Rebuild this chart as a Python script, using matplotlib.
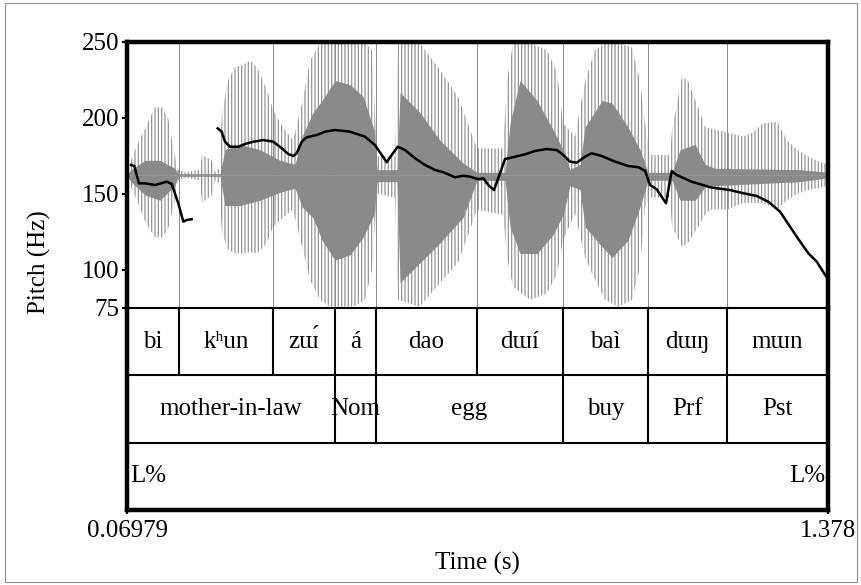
import numpy as np
import matplotlib
matplotlib.use("Agg")
import matplotlib.pyplot as plt
from matplotlib.patches import Rectangle

SERIF = 'Liberation Serif'
IPA_FAMILY = ['Liberation Serif', 'DejaVu Serif']
plt.rcParams['font.family'] = SERIF
plt.rcParams['hatch.linewidth'] = 0.9

T_START = 0.06979
T_END = 1.378

# Pitch contour (s, Hz); NaN separates voiced stretches
pitch_time = [0.0773, 0.0834, 0.0922, 0.1034, 0.1220, 0.1439, 0.1532, 0.1655,
              0.1749, 0.1811, 0.1904, np.nan,
              0.2391, 0.2465, 0.2527, 0.2620, 0.2776, 0.2900, 0.3055, 0.3242,
              0.3428, 0.3585, 0.3709, 0.3802, 0.3865, 0.3958, 0.4052, 0.4238,
              0.4394, 0.4580, 0.4860, 0.4953, 0.5140, 0.5326, 0.5452, 0.5545,
              0.5638, 0.5750, 0.5886, 0.6073, 0.6260, 0.6446, 0.6602, 0.6819,
              0.6975, 0.7100, 0.7256, 0.7348, 0.7441, 0.7547, 0.7659, 0.7752,
              0.7939, 0.8125, 0.8312, 0.8530, 0.8717, 0.8841, 0.8966, 0.9090,
              0.9245, 0.9370, 0.9556, 0.9805, 1.0054, 1.0241, 1.0365, 1.0459,
              1.0583, 1.0757, 1.0863, 1.0956, 1.1236, 1.1485, 1.1578, 1.1951,
              1.2200, 1.2450, 1.2667, 1.2885, 1.3072, 1.3196, 1.3413, 1.3569,
              1.3755]
pitch_hz = [169.1, 168.4, 157.0, 157.0, 155.9, 158.1, 156.6, 143.9,
            131.8, 132.9, 133.4, np.nan,
            193.2, 191.0, 184.4, 181.1, 181.1, 182.9, 184.4, 185.5,
            184.4, 180.1, 176.3, 175.0, 176.8, 184.4, 187.3, 188.8,
            191.0, 192.1, 191.0, 189.9, 187.7, 182.2, 175.7, 170.9,
            175.7, 181.1, 178.9, 173.5, 169.1, 165.8, 164.3, 161.0,
            162.0, 161.4, 159.7, 160.3, 155.9, 152.6, 163.6, 173.0,
            174.5, 176.1, 178.3, 179.6, 178.9, 175.7, 171.3, 170.6,
            174.5, 176.8, 175.0, 171.3, 168.4, 167.6, 165.3, 155.9,
            153.1, 143.9, 165.1, 162.5, 158.1, 155.5, 154.4, 152.6,
            150.5, 148.7, 144.9, 138.4, 128.5, 121.9, 111.0, 105.5,
            95.2]

# Waveform outer envelope (s, relative amplitude)
wave_time = [0.0698, 0.0773, 0.0903, 0.1034, 0.1220, 0.1351, 0.1463, 0.1594,
             0.1650, 0.1780, 0.2060, 0.2098, 0.2284, 0.2340, 0.2415, 0.2471,
             0.2583, 0.2714, 0.2863, 0.2994, 0.3124, 0.3311, 0.3423, 0.3610,
             0.3796, 0.3964, 0.4114, 0.4300, 0.4487, 0.4916, 0.5140, 0.5271,
             0.5364, 0.5700, 0.5756, 0.6166, 0.6540, 0.6876, 0.7100, 0.7230,
             0.7716, 0.7790, 0.7902, 0.8219, 0.8537, 0.8724, 0.8836, 0.9059,
             0.9246, 0.9433, 0.9619, 0.9862, 1.0123, 1.0273, 1.0366, 1.0459,
             1.0832, 1.0870, 1.1056, 1.1168, 1.1355, 1.1486, 1.1579, 1.1896,
             1.2195, 1.2382, 1.2568, 1.2830, 1.3016, 1.3203, 1.3445, 1.3688,
             1.3782]
wave_upper = [0.02, 0.11, 0.24, 0.35, 0.51, 0.51, 0.43, 0.14,
              0.04, 0.02, 0.04, 0.15, 0.11, 0.02, 0.05, 0.47,
              0.71, 0.81, 0.83, 0.86, 0.81, 0.64, 0.49, 0.36,
              0.26, 0.54, 0.86, 0.99, 0.99, 0.99, 0.99, 0.94,
              0.14, 0.14, 0.99, 0.99, 0.79, 0.59, 0.34, 0.20,
              0.20, 0.71, 0.99, 0.99, 0.94, 0.77, 0.39, 0.29,
              0.71, 0.94, 0.99, 0.99, 0.96, 0.71, 0.39, 0.15,
              0.15, 0.34, 0.74, 0.71, 0.51, 0.36, 0.35, 0.32,
              0.29, 0.32, 0.39, 0.40, 0.26, 0.19, 0.13, 0.09,
              0.08]
wave_lower = [-0.02, -0.09, -0.21, -0.35, -0.47, -0.47, -0.41, -0.19,
              -0.04, -0.02, -0.04, -0.21, -0.15, -0.04, -0.06, -0.44,
              -0.56, -0.59, -0.59, -0.58, -0.59, -0.51, -0.39, -0.32,
              -0.26, -0.54, -0.79, -0.94, -0.99, -0.99, -0.94, -0.71,
              -0.14, -0.17, -0.94, -0.99, -0.81, -0.66, -0.41, -0.26,
              -0.30, -0.62, -0.84, -0.94, -0.89, -0.74, -0.49, -0.29,
              -0.62, -0.79, -0.94, -0.99, -0.94, -0.69, -0.24, -0.17,
              -0.17, -0.39, -0.54, -0.51, -0.39, -0.30, -0.26, -0.26,
              -0.21, -0.21, -0.21, -0.26, -0.19, -0.14, -0.11, -0.09,
              -0.08]

# Dense inner part of the waveform (s, relative amplitude)
core_time = [0.0698, 0.0773, 0.1034, 0.1314, 0.1594, 0.1650, 0.2434, 0.2527,
             0.2807, 0.3180, 0.3554, 0.3834, 0.3964, 0.4169, 0.4337, 0.4580,
             0.4860, 0.5103, 0.5308, 0.5364, 0.5737, 0.5793, 0.6166, 0.6540,
             0.6969, 0.7230, 0.7753, 0.7846, 0.8033, 0.8350, 0.8649, 0.8836,
             0.8966, 0.9153, 0.9246, 0.9563, 0.9750, 1.0049, 1.0273, 1.0422,
             1.0870, 1.1019, 1.1299, 1.1486, 1.1673, 1.3259, 1.3782]
core_upper = [0.00, 0.04, 0.11, 0.11, 0.05, 0.01, 0.01, 0.19,
              0.23, 0.19, 0.11, 0.08, 0.29, 0.47, 0.56, 0.71,
              0.68, 0.59, 0.34, 0.04, 0.04, 0.62, 0.47, 0.26,
              0.09, 0.02, 0.02, 0.39, 0.71, 0.56, 0.34, 0.19,
              0.04, 0.08, 0.36, 0.56, 0.54, 0.36, 0.19, 0.02,
              0.02, 0.19, 0.23, 0.08, 0.05, 0.04, 0.02]
core_lower = [0.00, -0.05, -0.15, -0.19, -0.08, -0.01, -0.01, -0.23,
              -0.23, -0.19, -0.13, -0.10, -0.24, -0.32, -0.49, -0.64,
              -0.60, -0.47, -0.30, -0.05, -0.05, -0.81, -0.66, -0.51,
              -0.32, -0.04, -0.04, -0.39, -0.59, -0.59, -0.45, -0.30,
              -0.08, -0.11, -0.39, -0.54, -0.62, -0.49, -0.24, -0.04,
              -0.04, -0.19, -0.19, -0.09, -0.08, -0.05, -0.02]

# Tier 1: syllables
syll_bounds = [0.1668, 0.3423, 0.4580, 0.5345, 0.7230, 0.8835, 1.0422, 1.1896]
syll_labels = ['bi', 'k\u02b0un', 'z\u026f\u0301', '\u00e1', 'dao',
               'd\u026f\u00ed', 'ba\u00ec', 'd\u026f\u014b', 'm\u026fn']
# Tier 2: glosses
gloss_bounds = [0.4580, 0.5345, 0.8835, 1.0422, 1.1896]
gloss_labels = ['mother-in-law', 'Nom', 'egg', 'buy', 'Prf', 'Pst']
# Tier 3: boundary tones
tone_times = [T_START, T_END]
tone_labels = ['L%', 'L%']

pitch_ticks = [75, 100, 150, 200, 250]

W, H = 861, 585
FS = 18
fig = plt.figure(figsize=(W / 100, H / 100), dpi=100)


def box(x0, y0, x1, y1):
    return [x0 / W, 1 - y1 / H, (x1 - x0) / W, (y1 - y0) / H]


# --- pitch + waveform panel ---
ax = fig.add_axes(box(127, 42, 828, 308))
axw = ax.twinx()
ax.set_zorder(axw.get_zorder() + 1)
ax.patch.set_visible(False)

axw.set_ylim(-1, 1)
axw.set_yticks([])
for s in axw.spines.values():
    s.set_visible(False)

axw.fill_between(wave_time, wave_lower, wave_upper, facecolor='none',
                 edgecolor='#959595', hatch='|||||', linewidth=0, zorder=1)
axw.fill_between(core_time, core_lower, core_upper, color='#8a8a8a',
                 linewidth=0, zorder=2)
axw.axhline(0, color='#9a9a9a', lw=0.6, zorder=3)
axw.vlines(syll_bounds, -1, 1, color='#8a8a8a', lw=0.7, zorder=3)

ax.plot(pitch_time, pitch_hz, color='black', lw=1.8, zorder=5,
        solid_joinstyle='round')
ax.set_xlim(T_START, T_END)
ax.set_ylim(75, 250)
ax.set_yticks(pitch_ticks)
ax.set_yticklabels([str(v) for v in pitch_ticks], family=SERIF, fontsize=FS)
ax.set_xticks([])
ax.tick_params(axis='y', direction='out', length=3.5, width=1.5, pad=2)
for side in ('left', 'top', 'right'):
    ax.spines[side].set_linewidth(3.2)
ax.spines['bottom'].set_linewidth(1.5)

# --- annotation tiers ---
axt = fig.add_axes(box(127, 308, 828, 510))
axt.set_xlim(T_START, T_END)
axt.set_ylim(0, 3)
axt.set_yticks([])
axt.patch.set_visible(False)
axt.spines['top'].set_visible(False)
for side in ('left', 'right', 'bottom'):
    axt.spines[side].set_linewidth(3.2)

axt.axhline(2, color='black', lw=1.5)
axt.axhline(1, color='black', lw=1.5)
axt.vlines(syll_bounds, 2, 3, color='black', lw=1.5)
axt.vlines(gloss_bounds, 1, 2, color='black', lw=1.5)

edges = [T_START] + syll_bounds + [T_END]
for a, b, lab in zip(edges[:-1], edges[1:], syll_labels):
    axt.text((a + b) / 2, 2.5, lab, ha='center', va='center', fontsize=FS,
             family=IPA_FAMILY)

edges = [T_START] + gloss_bounds + [T_END]
for a, b, lab in zip(edges[:-1], edges[1:], gloss_labels):
    axt.text((a + b) / 2, 1.5, lab, ha='center', va='center', fontsize=FS,
             family=SERIF)

for t, lab in zip(tone_times, tone_labels):
    left = t == T_START
    axt.annotate(lab, xy=(t, 0.5), xytext=(2 if left else -2, 0),
                 textcoords='offset points', ha='left' if left else 'right',
                 va='center', fontsize=FS, family=SERIF)

axt.set_xticks([T_START, T_END])
axt.set_xticklabels(['0.06979', '1.378'], family=SERIF, fontsize=FS)
axt.tick_params(axis='x', direction='out', length=3, width=1.5, pad=4)

fig.text(477.5 / W, 1 - 563 / H, 'Time (s)', ha='center', va='center',
         fontsize=FS, family=SERIF)
fig.text(39 / W, 1 - 262 / H, 'Pitch (Hz)', ha='center', va='center',
         rotation=90, fontsize=FS, family=SERIF)

fig.patches.append(Rectangle((5 / W, 1 - 582 / H), 852 / W, 579 / H,
                             transform=fig.transFigure, fill=False,
                             edgecolor='#8c8c8c', lw=0.8))

fig.savefig('out.png', dpi=100)
